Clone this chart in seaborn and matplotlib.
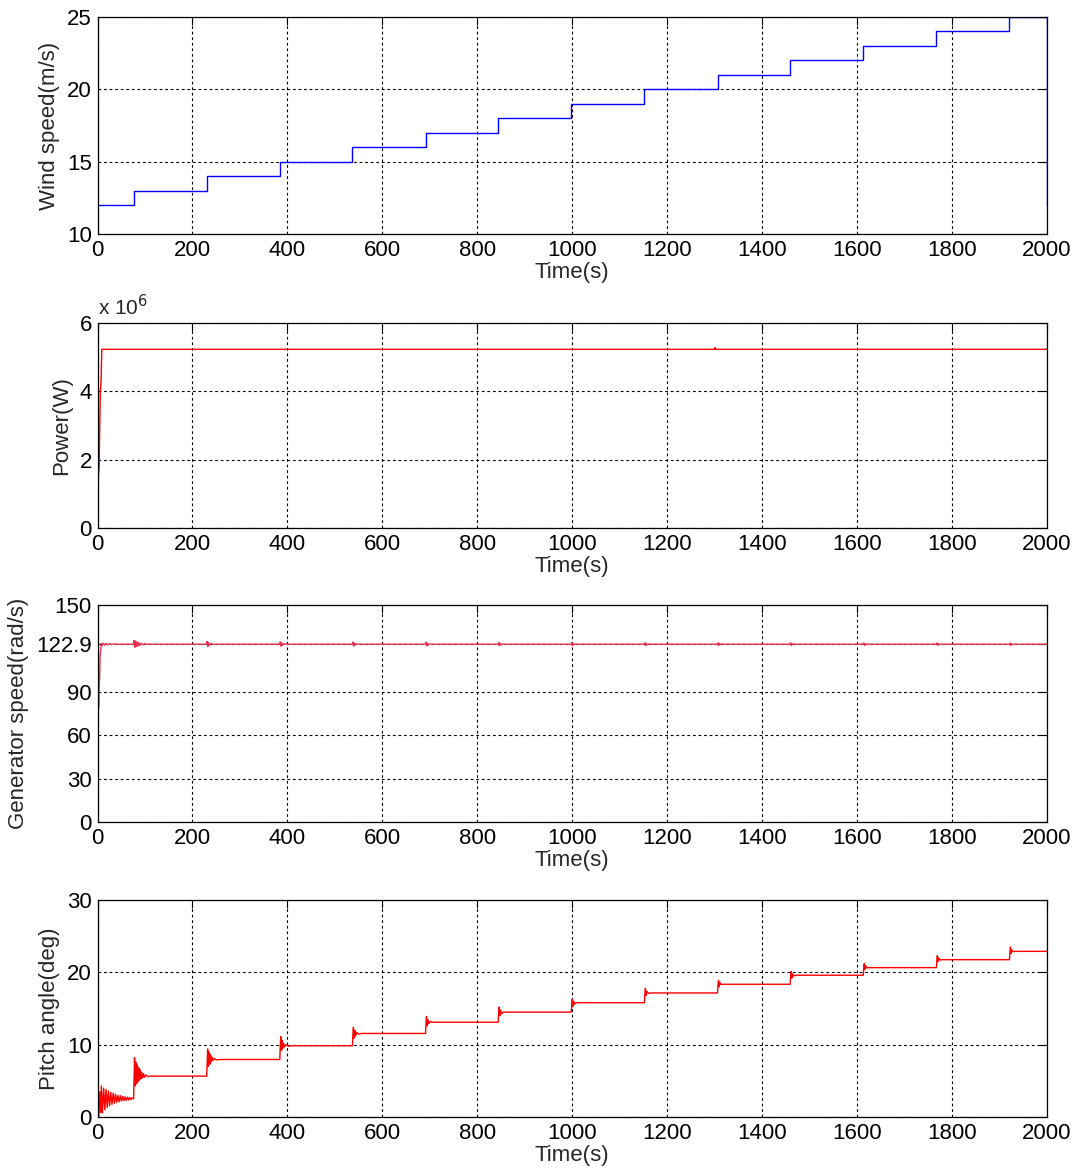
import numpy as np
import pandas as pd
import matplotlib
matplotlib.use("Agg")
import matplotlib.pyplot as plt
import seaborn as sns

# ---------------- data ----------------
wind_time = [0, 76, 230, 384, 537, 691, 844, 998, 1152, 1306, 1459, 1613, 1767, 1921, 2000, 2000, 2000]
wind_speed = [12, 13, 14, 15, 16, 17, 18, 19, 20, 21, 22, 23, 24, 25, 25, 18.5, 12]

power_time = [0, 1, 2, 3.5, 4.5, 6, 7.5, 9, 1300, 1301, 1302, 2000]
power_w = [0, 0.2e6, 1.5e6, 1.8e6, 2.8e6, 4.0e6, 4.3e6, 5.23e6, 5.23e6, 5.28e6, 5.23e6, 5.23e6]

gen_time = [0, 1, 2, 3, 3.5, 4.5, 5.5, 6.5, 8, 10, 12, 15, 18, 21, 25, 29, 34, 40,
            76, 77, 78.5, 80, 81.5, 83, 85, 87, 89, 92, 96, 100, 106,
            230, 231, 232.5, 234, 236, 239, 243,
            384, 385, 386.5, 388, 390, 393, 397,
            537, 538, 539.5, 541, 543, 546, 550,
            691, 692, 693.5, 695, 697, 700, 704,
            844, 845, 846.5, 848, 850, 853, 857,
            998, 999, 1000.5, 1002, 1004, 1007, 1011,
            1152, 1153, 1154.5, 1156, 1158, 1161, 1165,
            1306, 1307, 1308.5, 1310, 1312, 1315, 1319,
            1459, 1460, 1461.5, 1463, 1465, 1468, 1472,
            1613, 1614, 1615.5, 1617, 1619, 1622, 1626,
            1767, 1768, 1769.5, 1771, 1773, 1776, 1780,
            1921, 1922, 1923.5, 1925, 1927, 1930, 1934, 2000]
gen_speed = [60, 62, 78, 80, 95, 100, 115, 118, 123.5, 122.0, 123.6, 122.3, 123.4, 122.5, 123.2, 122.7, 123.1, 122.9,
             122.9, 125.5, 120.8, 125.0, 121.2, 124.5, 121.6, 124.0, 122.0, 123.6, 122.5, 123.2, 122.9,
             122.9, 124.8, 121.3, 124.0, 122.2, 123.3, 122.9,
             122.9, 124.5, 121.5, 123.8, 122.3, 123.2, 122.9,
             122.9, 124.3, 121.6, 123.7, 122.4, 123.1, 122.9,
             122.9, 124.2, 121.7, 123.6, 122.4, 123.1, 122.9,
             122.9, 124.0, 121.8, 123.5, 122.5, 123.0, 122.9,
             122.9, 123.9, 121.9, 123.4, 122.5, 123.0, 122.9,
             122.9, 123.9, 121.9, 123.4, 122.5, 123.0, 122.9,
             122.9, 123.8, 122.0, 123.4, 122.6, 123.0, 122.9,
             122.9, 123.8, 122.0, 123.3, 122.6, 123.0, 122.9,
             122.9, 123.7, 122.1, 123.3, 122.6, 123.0, 122.9,
             122.9, 123.7, 122.1, 123.3, 122.6, 123.0, 122.9,
             122.9, 123.7, 122.1, 123.3, 122.6, 123.0, 122.9, 122.9]

pitch_time = [0, 3, 5, 7, 8, 10.5, 13, 15.5, 18, 20.5, 23, 25.5, 28, 30.5, 33, 35.5, 38, 40.5, 43, 45.5,
              48, 50.5, 53, 55.5, 58, 60.5, 63, 65.5, 68, 70.5, 73, 76,
              77, 78, 79.5, 81, 82.5, 84, 85.5, 87, 88.5, 90, 91.5, 93, 95, 97, 99, 102, 106, 112,
              230, 231, 232, 233.5, 235, 236.5, 238, 239.5, 241, 243, 246, 250, 258,
              384, 385, 386, 387.5, 389, 390.5, 392, 394, 397, 402, 410,
              537, 538, 539, 540.5, 542, 543.5, 546, 550, 556,
              691, 692, 693, 694.5, 696, 698, 701, 706,
              844, 845, 846, 847.5, 849, 851, 855,
              998, 999, 1000, 1001.5, 1003, 1005, 1009,
              1152, 1153, 1154, 1155.5, 1157, 1160, 1165,
              1306, 1307, 1308, 1309.5, 1311, 1314, 1318,
              1459, 1460, 1461, 1462.5, 1464, 1467, 1471,
              1613, 1614, 1615, 1616.5, 1618, 1621, 1625,
              1767, 1768, 1769, 1770.5, 1772, 1775, 1779,
              1921, 1922, 1923, 1924.5, 1926, 1929, 1933, 2000]
pitch_deg = [0, 0.2, 3.5, 0.6, 4.3, 0.6, 4.0, 1.0, 3.8, 1.3, 3.6, 1.55, 3.4, 1.75, 3.3, 1.9, 3.15, 2.0, 3.0, 2.1,
             2.95, 2.2, 2.85, 2.25, 2.8, 2.3, 2.75, 2.35, 2.7, 2.4, 2.65, 2.5,
             5.0, 8.2, 4.3, 7.6, 4.6, 7.2, 4.9, 6.8, 5.1, 6.5, 5.3, 6.2, 5.4, 6.0, 5.5, 5.8, 5.6, 5.65,
             5.65, 7.5, 9.4, 7.0, 9.0, 7.3, 8.6, 7.6, 8.3, 7.8, 8.1, 7.9, 7.95,
             7.95, 9.8, 11.1, 9.2, 10.6, 9.5, 10.2, 9.7, 10.0, 9.8, 9.85,
             9.85, 11.4, 12.4, 10.9, 12.0, 11.2, 11.7, 11.45, 11.55,
             11.55, 13.0, 13.9, 12.6, 13.5, 12.9, 13.2, 13.1,
             13.1, 14.4, 15.2, 14.0, 14.8, 14.3, 14.5,
             14.5, 15.7, 16.3, 15.3, 16.0, 15.6, 15.8,
             15.8, 17.0, 17.8, 16.8, 17.4, 17.1, 17.15,
             17.15, 18.3, 18.9, 18.0, 18.6, 18.3, 18.35,
             18.35, 19.5, 20.1, 19.2, 19.8, 19.5, 19.6,
             19.6, 20.6, 21.2, 20.4, 20.9, 20.6, 20.65,
             20.65, 21.7, 22.3, 21.5, 22.0, 21.7, 21.75,
             21.75, 22.9, 23.5, 22.6, 23.1, 22.85, 22.9, 22.9]

x_ticks = [0, 200, 400, 600, 800, 1000, 1200, 1400, 1600, 1800, 2000]
wind_ticks = [10, 15, 20, 25]
power_ticks = [0, 2e6, 4e6, 6e6]
power_tick_labels = ["0", "2", "4", "6"]
gen_ticks = [0, 30, 60, 90, 122.9, 150]
gen_tick_labels = ["0", "30", "60", "90", "122.9", "150"]
pitch_ticks = [0, 10, 20, 30]

# ---------------- styling ----------------
sns.set_style("white")
plt.rcParams["font.family"] = ["Liberation Sans", "DejaVu Sans"]
FS = 16

W, H = 1078, 1173
fig = plt.figure(figsize=(W / 100, H / 100), dpi=100)

left = 97.5 / W
width = (1047 - 97.5) / W


def make_ax(top_px, bot_px):
    return fig.add_axes([left, 1 - bot_px / H, width, (bot_px - top_px) / H])


def style(ax, yticks, ylim, ylabel, ytl=None):
    ax.set_xlim(0, 2000)
    ax.set_ylim(*ylim)
    ax.set_xticks(x_ticks)
    ax.set_xticklabels([str(t) for t in x_ticks])
    ax.set_yticks(yticks)
    if ytl is not None:
        ax.set_yticklabels(ytl)
    ax.grid(True, color="black", linestyle=(0, (2.5, 2.5)), linewidth=0.8)
    ax.set_axisbelow(True)
    ax.tick_params(direction="in", top=True, right=True, length=6, width=0.8,
                   labelsize=FS, pad=4, colors="black")
    for s in ax.spines.values():
        s.set_color("black")
        s.set_linewidth(0.9)
        s.set_visible(True)
    ax.set_xlabel("Time(s)", fontsize=FS, labelpad=1)
    ax.set_ylabel(ylabel, fontsize=FS, labelpad=5)


# Panel 1: wind speed
ax1 = make_ax(17, 234)
df1 = pd.DataFrame({"t": wind_time, "v": wind_speed})
sns.lineplot(data=df1, x="t", y="v", ax=ax1, color="#0000ff", linewidth=1.0,
             drawstyle="steps-post", estimator=None, sort=False)
style(ax1, wind_ticks, (10, 25), "Wind speed(m/s)")

# Panel 2: power
ax2 = make_ax(323, 528)
df2 = pd.DataFrame({"t": power_time, "v": power_w})
sns.lineplot(data=df2, x="t", y="v", ax=ax2, color="#ff0000", linewidth=1.0,
             estimator=None, sort=False)
style(ax2, power_ticks, (0, 6e6), "Power(W)", power_tick_labels)
ax2.text(0.0, 1.02, r"x 10$^6$", transform=ax2.transAxes, fontsize=FS - 1,
         ha="left", va="bottom")

# Panel 3: generator speed
ax3 = make_ax(605, 822)
df3 = pd.DataFrame({"t": gen_time, "v": gen_speed})
sns.lineplot(data=df3, x="t", y="v", ax=ax3, color="#e5304f", linewidth=1.0,
             estimator=None, sort=False)
style(ax3, gen_ticks, (0, 150), "Generator speed(rad/s)", gen_tick_labels)

# Panel 4: pitch angle
ax4 = make_ax(900, 1117)
df4 = pd.DataFrame({"t": pitch_time, "v": pitch_deg})
sns.lineplot(data=df4, x="t", y="v", ax=ax4, color="#ff0000", linewidth=1.0,
             estimator=None, sort=False)
style(ax4, pitch_ticks, (0, 30), "Pitch angle(deg)")

fig.savefig("out.png", dpi=100, facecolor="white")
